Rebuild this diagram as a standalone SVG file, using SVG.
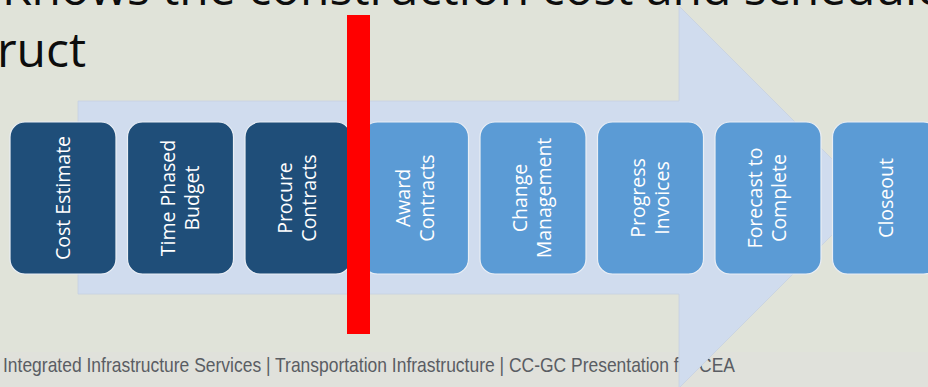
<svg xmlns="http://www.w3.org/2000/svg" width="928" height="387" viewBox="0 0 928 387">
<style>
.title{font-family:"Open Sans","Noto Sans",sans-serif;font-size:48px;fill:#0d0d0d}
.box-dark{fill:#1F4E79;stroke:#E9EEF5;stroke-width:1.2}
.box-light{fill:#5B9BD5;stroke:#E9EEF5;stroke-width:1.2}
.lbl{font-family:"Open Sans","Noto Sans",sans-serif;font-size:19.5px;fill:#ffffff;text-anchor:middle}
.footer{font-family:"Liberation Sans Narrow","Liberation Sans",Arial,sans-serif;font-size:21px;fill:#5a5d63}
</style>
<rect x="0" y="0" width="928" height="387" fill="#E0E3D9"/>
<rect x="0" y="352" width="928" height="35" fill="#E0E1DB"/>
<text class="title" x="2" y="5">Knows the construction cost and schedule</text>
<text class="title" x="-3" y="67">ruct</text>
<text class="footer" x="3" y="372" textLength="732" lengthAdjust="spacingAndGlyphs">Integrated Infrastructure Services | Transportation Infrastructure | CC-GC Presentation for CEA</text>
<g id="arrow">
<path d="M78,101 H679 V6 L870,197 L679,388 V294 H78 Z" fill="#D0DCEE" stroke="#C6D1E1" stroke-width="0.8"/>
</g>
<g id="connectors"></g>
<g id="n1"><rect class="box-dark" x="10" y="122" width="106" height="152" rx="15"/><g transform="translate(63,198) rotate(-90)"><text class="lbl" x="0" y="7">Cost Estimate</text></g></g>
<g id="n2"><rect class="box-dark" x="127.5" y="122" width="106" height="152" rx="15"/><g transform="translate(180.5,198) rotate(-90)"><text class="lbl" x="0" y="-6">Time Phased</text><text class="lbl" x="0" y="18">Budget</text></g></g>
<g id="n3"><rect class="box-dark" x="245" y="122" width="106" height="152" rx="15"/><g transform="translate(298,198) rotate(-90)"><text class="lbl" x="0" y="-6">Procure</text><text class="lbl" x="0" y="18">Contracts</text></g></g>
<g id="n4"><rect class="box-light" x="362.5" y="122" width="106" height="152" rx="15"/><g transform="translate(415.5,198) rotate(-90)"><text class="lbl" x="0" y="-6">Award</text><text class="lbl" x="0" y="18">Contracts</text></g></g>
<g id="n5"><rect class="box-light" x="480" y="122" width="106" height="152" rx="15"/><g transform="translate(533,198) rotate(-90)"><text class="lbl" x="0" y="-6">Change</text><text class="lbl" x="0" y="18">Management</text></g></g>
<g id="n6"><rect class="box-light" x="597.5" y="122" width="106" height="152" rx="15"/><g transform="translate(650.5,198) rotate(-90)"><text class="lbl" x="0" y="-6">Progress</text><text class="lbl" x="0" y="18">Invoices</text></g></g>
<g id="n7"><rect class="box-light" x="715" y="122" width="106" height="152" rx="15"/><g transform="translate(768,198) rotate(-90)"><text class="lbl" x="0" y="-6">Forecast to</text><text class="lbl" x="0" y="18">Complete</text></g></g>
<g id="n8"><rect class="box-light" x="832.5" y="122" width="106" height="152" rx="15"/><g transform="translate(885.5,198) rotate(-90)"><text class="lbl" x="0" y="7">Closeout</text></g></g>
<g id="marker-bar"><rect x="347" y="15" width="23" height="319" fill="#FF0000"/></g>
</svg>
